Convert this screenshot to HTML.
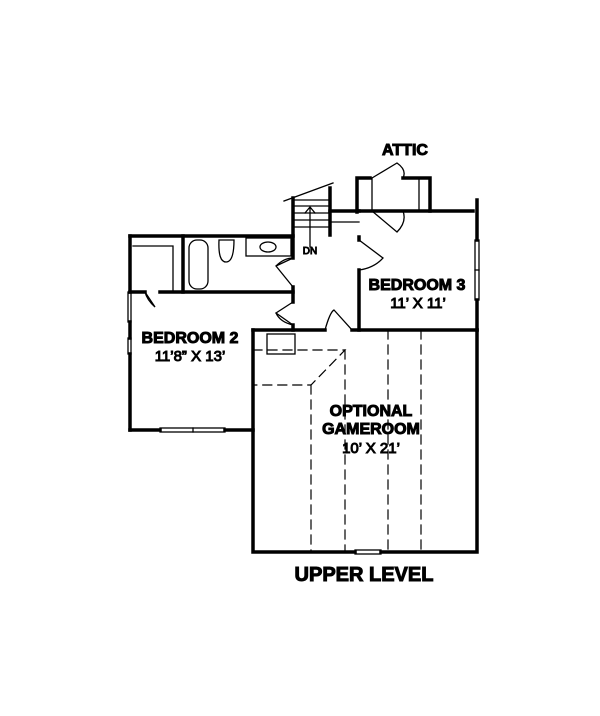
<!DOCTYPE html>
<html><head><meta charset="utf-8"><style>
html,body{margin:0;padding:0;background:#fff;width:600px;height:716px;overflow:hidden}
svg{display:block}
text{font-family:"Liberation Sans",Arial,sans-serif;fill:#000}
</style></head><body>
<svg width="600" height="716" viewBox="0 0 600 716" xmlns="http://www.w3.org/2000/svg">
<g stroke="#000" fill="none" stroke-linecap="square">
<g stroke-width="3.5">
<path d="M130 236 H293"/>
<path d="M130 236 V292"/><path d="M130 322 V338"/><path d="M130 354 V430"/>
<path d="M130 430 H160"/><path d="M225 430 H253"/>
<path d="M253 330 V552 H355"/><path d="M381 552 H477 V330"/>
<path d="M253 330 H325"/><path d="M352 330 H477"/>
<path d="M359 237 V240"/><path d="M359 270 V330"/>
<path d="M359 211 H473"/><path d="M477 200 V240"/><path d="M477 300 V330"/>
<path d="M357 212 V178 H370"/><path d="M403 178 H430 V211"/>
<path d="M293 198 V258"/><path d="M293 287 V302"/><path d="M293 325 V330"/>
<path d="M330 188 V235"/>
<path d="M330 211 H359"/>
<path d="M130 292 H145"/><path d="M160 292 H293"/>
<path d="M183 236 V292"/>
</g>
<g stroke-width="1.3">
<path d="M330 222 H359"/>
<path d="M372 178 V211"/><path d="M419 178 V211"/>
<path d="M293 200 H330 M293 206 H330 M293 213 H330 M293 220 H330 M293 227 H330"/>
<path d="M284 201 L333 183"/>
<path d="M310 247 V208 M305 213 L310 207 L315 213"/>
<path d="M133 246 H173 V290"/>
<rect x="189" y="240" width="19" height="49" rx="8"/>
<path d="M219 240 Q218 262 226 262 Q234 262 234 240 Z"/>
<rect x="246" y="238" width="45" height="18"/>
<ellipse cx="268" cy="247" rx="8" ry="5"/>
<rect x="128" y="292" width="3" height="30"/><rect x="128" y="338" width="3" height="16"/>
<rect x="160" y="428" width="65" height="4"/><path d="M193 428 V432"/>
<rect x="355" y="550" width="26" height="4"/>
<rect x="475" y="240" width="4" height="60"/><path d="M475 270 H479"/>
<path d="M145 292 L155 307 Q147 300 145 292"/>
<path d="M293 258 L276 266 Q284 258 293 258" /><path d="M276 266 L293 287"/>
<path d="M293 302 L276 313 L293 325 Q280 322 276 313"/>
<path d="M359 240 L383 258 Q374 268 359 270 M359 240 L383 258"/>
<path d="M325 330 Q330 312 334 310 L352 330"/>
<path d="M372 178 L397 163 Q407 170 403 178"/>
<path d="M372 211 L397 232 Q407 222 403 211"/>
<rect x="267" y="334" width="28" height="20"/>
</g>
<g stroke="#000" stroke-width="1.2" fill="none" stroke-dasharray="9,6">
<path d="M253 350 H345 L311 385 H253"/>
<path d="M311 385 V552"/><path d="M345 350 V552"/>
<path d="M388 330 V552"/><path d="M421 330 V552"/>
</g>
<text x="405" y="155" font-size="16" font-weight="bold" text-anchor="middle">ATTIC</text>
<text x="310" y="254" font-size="10" text-anchor="middle">DN</text>
<text x="417" y="290" font-size="16" font-weight="bold" text-anchor="middle">BEDROOM 3</text>
<text x="418" y="308" font-size="15" text-anchor="middle">11’ X 11’</text>
<text x="190" y="343" font-size="16" font-weight="bold" text-anchor="middle">BEDROOM 2</text>
<text x="190" y="361" font-size="15" text-anchor="middle">11’8” X 13’</text>
<text x="371" y="416" font-size="16" font-weight="bold" text-anchor="middle">OPTIONAL</text>
<text x="371" y="434" font-size="16" font-weight="bold" text-anchor="middle">GAMEROOM</text>
<text x="371" y="453" font-size="15" text-anchor="middle">10’ X 21’</text>
<text x="364" y="581" font-size="20" font-weight="bold" text-anchor="middle">UPPER LEVEL</text>
</svg>
</body></html>
